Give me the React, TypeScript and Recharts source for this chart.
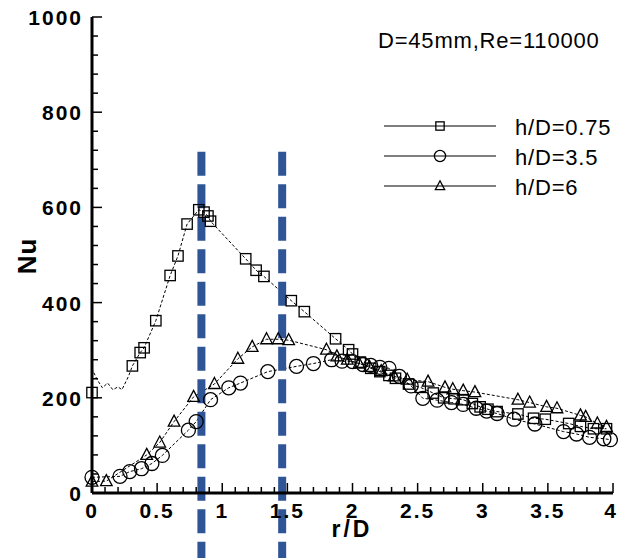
import { ComposedChart, Line, XAxis, YAxis, ReferenceLine } from 'recharts'

// Nu vs r/D
const hd075: [number, number][] = [
  [0, 211], [0.31, 267], [0.37, 295], [0.4, 305], [0.49, 362], [0.6, 457], [0.66, 498],
  [0.73, 565], [0.82, 595], [0.86, 590], [0.89, 582], [0.91, 571], [1.18, 492], [1.26, 468],
  [1.32, 455], [1.53, 404], [1.63, 381], [1.87, 324], [1.97, 301], [2.0, 292], [2.06, 275],
  [2.14, 262], [2.21, 255], [2.28, 247], [2.33, 241], [2.43, 229], [2.52, 222], [2.62, 210],
  [2.7, 200], [2.78, 198], [2.85, 196], [2.92, 188], [2.98, 181], [3.04, 176], [3.11, 171],
  [3.27, 166], [3.39, 157], [3.48, 155], [3.66, 146], [3.75, 140], [3.85, 135], [3.95, 135],
]
// measured points between the symbols near the jet axis (no symbol drawn)
const hd075Trace: [number, number][] = [
  [0.005, 258], [0.04, 238], [0.08, 221], [0.12, 231], [0.16, 217], [0.2, 223], [0.23, 217], [0.28, 245],
]
const hd35: [number, number][] = [
  [0, 33], [0.215, 35], [0.29, 45], [0.38, 51], [0.46, 62], [0.54, 79], [0.74, 132], [0.8, 150],
  [0.91, 196], [1.05, 221], [1.14, 231], [1.35, 255], [1.57, 266], [1.7, 272], [1.84, 280],
  [1.92, 277], [2.0, 276], [2.08, 270], [2.14, 268], [2.21, 264], [2.28, 262], [2.36, 245],
  [2.45, 225], [2.54, 199], [2.65, 195], [2.76, 190], [2.85, 186], [2.95, 178], [3.03, 172],
  [3.11, 167], [3.24, 155], [3.4, 145], [3.62, 129], [3.72, 124], [3.82, 117], [3.93, 114], [3.98, 112],
]
const hd6: [number, number][] = [
  [0, 24], [0.11, 25], [0.42, 80], [0.52, 106], [0.63, 150], [0.78, 202], [0.94, 229], [1.12, 282],
  [1.23, 307], [1.34, 323], [1.43, 323], [1.51, 321], [1.8, 301], [1.88, 287], [1.96, 280],
  [2.05, 272], [2.13, 265], [2.22, 256], [2.32, 245], [2.42, 238], [2.58, 234], [2.71, 222],
  [2.77, 218], [2.85, 215], [2.94, 212], [3.27, 196], [3.36, 190], [3.49, 181], [3.57, 178],
  [3.75, 163], [3.79, 160], [3.88, 146], [3.95, 139],
]

const seriesNames = ['h/D=0.75', 'h/D=3.5', 'h/D=6']
const caseLabel = 'D=45mm,Re=110000'
const xMajorTicks = [0, 0.5, 1, 1.5, 2, 2.5, 3, 3.5, 4]
const xTickLabels = ['0', '0.5', '1', '1.5', '2', '2.5', '3', '3.5', '4']
const yMajorTicks = [0, 200, 400, 600, 800, 1000]
const yTickLabels = ['0', '200', '400', '600', '800', '1000']
const markedPositions = [0.84, 1.46]

const xMinorTicks = Array.from({ length: 41 }, (_, i) => i / 10)
const yMinorTicks = Array.from({ length: 26 }, (_, i) => i * 40)

const toRows = (pts: [number, number][], marked = true) => pts.map(([r, nu]) => ({ r, nu, marked }))
const data075 = [...toRows(hd075), ...toRows(hd075Trace, false)].sort((a, b) => a.r - b.r)
const data35 = toRows(hd35)
const data6 = toRows(hd6)

const W = 618
const H = 558
const tickFont = { fontFamily: '"Liberation Sans", Arial, sans-serif', fontWeight: 700, fontSize: 21, letterSpacing: 2 }
const textFont = { fontFamily: '"Liberation Sans", Arial, sans-serif', fontSize: 22, letterSpacing: 0.8 }
const BLUE = '#2f5597'

const near = (a: number, b: number) => Math.abs(a - b) < 1e-6

function XTick({ x, y, payload }: any) {
  const idx = xMajorTicks.findIndex((m) => near(m, payload.value))
  const major = idx >= 0
  return (
    <g>
      <line x1={x} x2={x} y1={y} y2={y - (major ? 10 : 6)} stroke="#000" strokeWidth={1.5} />
      {major && (
        <text x={x - (idx === xMajorTicks.length - 1 ? 2 : 0)} y={y + 25} textAnchor="middle" fill="#000" {...tickFont}>
          {xTickLabels[idx]}
        </text>
      )}
    </g>
  )
}

function YTick({ x, y, payload }: any) {
  const idx = yMajorTicks.findIndex((m) => near(m, payload.value))
  const major = idx >= 0
  return (
    <g>
      <line x1={x} x2={x + (major ? 10 : 6)} y1={y} y2={y} stroke="#000" strokeWidth={1.5} />
      {major && (
        <text x={x - 9} y={y + 8} textAnchor="end" fill="#000" {...tickFont}>
          {yTickLabels[idx]}
        </text>
      )}
    </g>
  )
}

function Marker({ kind, cx, cy, s = 1 }: { kind: number; cx: number; cy: number; s?: number }) {
  const p = { fill: 'none', stroke: '#000', strokeWidth: 1.3 }
  if (kind === 0) {
    const h = 5.2 * s
    return <rect x={cx - h} y={cy - h} width={2 * h} height={2 * h} {...p} />
  }
  if (kind === 1) return <circle cx={cx} cy={cy} r={7 * s} {...p} />
  const w = 5.8 * s
  return <path d={`M${cx},${cy - 6.5 * s}L${cx + w},${cy + 4.5 * s}L${cx - w},${cy + 4.5 * s}Z`} {...p} />
}

const dotFor = (kind: number) => (props: any) => {
  const { cx, cy, payload, index } = props
  if (!payload.marked || cx == null || cy == null) return <g key={`d${kind}-${index}`} />
  return (
    <g key={`d${kind}-${index}`}>
      <Marker kind={kind} cx={cx} cy={cy} />
    </g>
  )
}

const series = [data075, data35, data6]

export default function App() {
  return (
    <div style={{ position: 'absolute', left: 0, top: 0, width: W, height: H, background: '#fff' }}>
      <ComposedChart width={W} height={H} margin={{ top: 17, right: 5, bottom: 0, left: 0 }}>
        <XAxis
          type="number"
          dataKey="r"
          domain={[0, 4]}
          ticks={xMinorTicks}
          interval={0}
          height={65}
          tickSize={0}
          tickMargin={0}
          tickLine={false}
          axisLine={{ stroke: '#000', strokeWidth: 3 }}
          tick={<XTick />}
          allowDuplicatedCategory={false}
        />
        <YAxis
          type="number"
          dataKey="nu"
          domain={[0, 1000]}
          ticks={yMinorTicks}
          interval={0}
          width={92}
          tickSize={0}
          tickMargin={0}
          tickLine={false}
          axisLine={{ stroke: '#000', strokeWidth: 3 }}
          tick={<YTick />}
        />
        {series.map((d, k) => (
          <Line
            key={seriesNames[k]}
            data={d}
            dataKey="nu"
            name={seriesNames[k]}
            type="linear"
            stroke="#000"
            strokeWidth={1}
            strokeDasharray="3 2"
            dot={dotFor(k)}
            activeDot={false}
            isAnimationActive={false}
          />
        ))}
        {markedPositions.map((r) => (
          <ReferenceLine
            key={r}
            segment={[{ x: r, y: 717 }, { x: r, y: -160 }]}
            ifOverflow="visible"
            stroke={BLUE}
            strokeWidth={8}
            strokeDasharray="24 8.5"
          />
        ))}
      </ComposedChart>
      <svg width={W} height={H} style={{ position: 'absolute', left: 0, top: 0, pointerEvents: 'none' }}>
        <text x={378} y={48} fill="#000" {...textFont}>{caseLabel}</text>
        {seriesNames.map((name, k) => {
          const y = 126 + k * 30
          return (
            <g key={name}>
              <line x1={384} x2={496} y1={y} y2={y} stroke="#000" strokeWidth={1} />
              <Marker kind={k} cx={440} cy={y} s={0.8} />
              <text x={515} y={y + 9} fill="#000" {...textFont}>{name}</text>
            </g>
          )
        })}
        <text
          transform="translate(36,256) rotate(-90)"
          textAnchor="middle"
          fill="#000"
          fontFamily='"Liberation Sans", Arial, sans-serif'
          fontWeight={700}
          fontSize={26}
          letterSpacing={1}
        >
          Nu
        </text>
        <text
          x={352}
          y={537}
          textAnchor="middle"
          fill="#000"
          fontFamily='"Liberation Sans", Arial, sans-serif'
          fontWeight={700}
          fontSize={23}
          letterSpacing={3}
        >
          r/D
        </text>
      </svg>
    </div>
  )
}
